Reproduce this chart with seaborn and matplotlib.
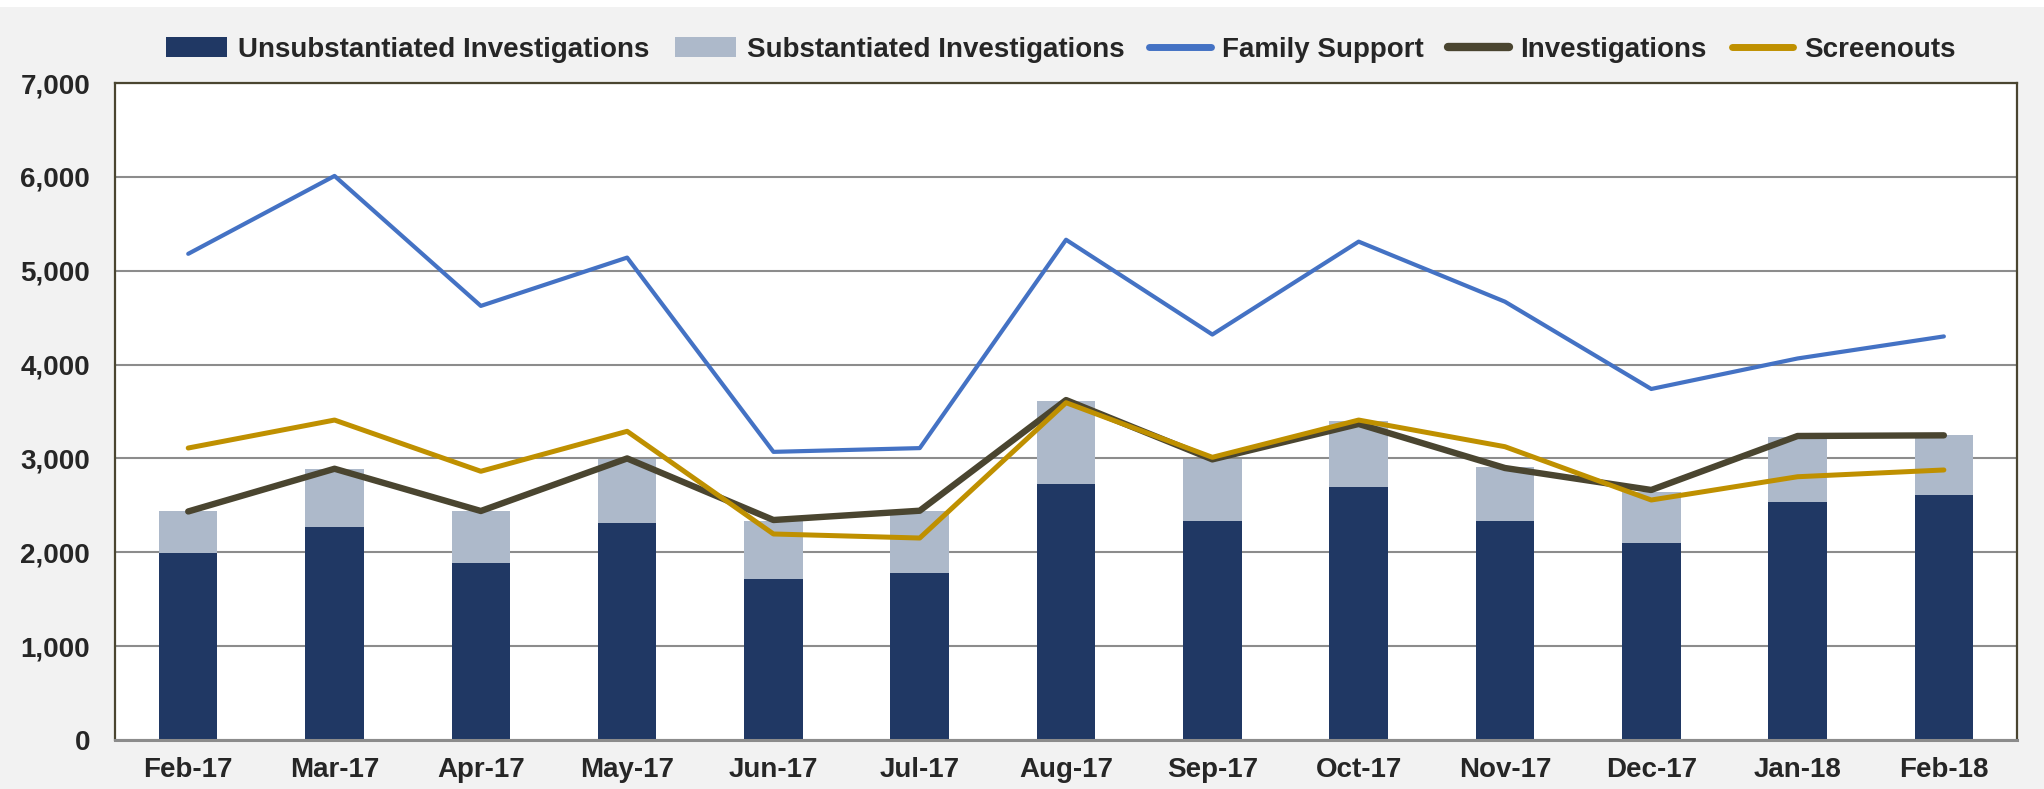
import numpy as np
import pandas as pd
import seaborn as sns
import matplotlib.pyplot as plt
from matplotlib.ticker import FuncFormatter

# Monthly values
months = ["Feb-17", "Mar-17", "Apr-17", "May-17", "Jun-17", "Jul-17", "Aug-17",
          "Sep-17", "Oct-17", "Nov-17", "Dec-17", "Jan-18", "Feb-18"]
unsubstantiated = [1990, 2266, 1882, 2309, 1712, 1776, 2727, 2330, 2692, 2330, 2095, 2539, 2607]
substantiated = [445, 618, 553, 688, 618, 659, 881, 667, 703, 575, 547, 686, 639]
family_support = [5180, 6010, 4625, 5140, 3070, 3110, 5330, 4320, 5310, 4670, 3740, 4065, 4300]
investigations = [2435, 2890, 2440, 3000, 2344, 2443, 3622, 2990, 3367, 2898, 2664, 3239, 3246]
screenouts = [3111, 3409, 2863, 3289, 2195, 2152, 3594, 3012, 3409, 3125, 2557, 2805, 2877]

NAVY = "#203864"
LIGHT = "#adb9ca"
BLUE = "#4472c4"
OLIVE = "#4a4530"
GOLD = "#bf9000"
BG = "#f2f2f2"
FS = 20

df = pd.DataFrame({
    "month": months,
    "unsub": unsubstantiated,
    "sub": substantiated,
    "family": family_support,
    "invest": investigations,
    "screen": screenouts,
})
df["total"] = df["unsub"] + df["sub"]

sns.set_style("white")
plt.rcParams["font.family"] = ["Liberation Sans", "DejaVu Sans"]
plt.rcParams["font.weight"] = "bold"

fig = plt.figure(figsize=(20.44, 7.89), dpi=100, facecolor=BG)
ax = fig.add_axes([0.0563, 0.0621, 0.9305, 0.8327])
ax.set_facecolor("white")

# thin white strip at the very top of the image
fig.patches.append(plt.Rectangle((0, 0.991), 1, 0.009, transform=fig.transFigure,
                                 facecolor="white", edgecolor="none", zorder=0))

# stacked bars: total (light) underneath, unsubstantiated (navy) on top
sns.barplot(data=df, x="month", y="total", color=LIGHT, width=0.4,
            saturation=1, linewidth=0, ax=ax, zorder=2)
sns.barplot(data=df, x="month", y="unsub", color=NAVY, width=0.4,
            saturation=1, linewidth=0, ax=ax, zorder=2)

sns.lineplot(data=df, x="month", y="family", color=BLUE, linewidth=3.0,
             sort=False, ax=ax, zorder=3)
sns.lineplot(data=df, x="month", y="invest", color=OLIVE, linewidth=4.6,
             sort=False, ax=ax, zorder=3, solid_capstyle="round")
sns.lineplot(data=df, x="month", y="screen", color=GOLD, linewidth=3.6,
             sort=False, ax=ax, zorder=4, solid_capstyle="round")

ax.set_xlim(-0.5, len(months) - 0.5)
ax.set_ylim(0, 7000)
ax.set_yticks(np.arange(0, 7001, 1000))
ax.yaxis.set_major_formatter(FuncFormatter(lambda v, p: f"{int(v):,}"))
ax.set_xlabel("")
ax.set_ylabel("")

ax.grid(axis="y", color="#8c8c8c", linewidth=1.5, zorder=0)
ax.set_axisbelow(True)
ax.tick_params(axis="both", length=0, labelsize=FS)
ax.tick_params(axis="x", pad=12)
ax.tick_params(axis="y", pad=18)
for lbl in ax.get_xticklabels() + ax.get_yticklabels():
    lbl.set_fontweight("bold")

for side in ["left", "top", "right"]:
    ax.spines[side].set_color(OLIVE)
    ax.spines[side].set_linewidth(1.6)
ax.spines["bottom"].set_color("#8c8c8c")
ax.spines["bottom"].set_linewidth(2.2)

# Legend across the top
handles = [
    plt.Rectangle((0, 0), 1, 1, facecolor=NAVY, edgecolor="none"),
    plt.Rectangle((0, 0), 1, 1, facecolor=LIGHT, edgecolor="none"),
    plt.Line2D([], [], color=BLUE, linewidth=5, solid_capstyle="round"),
    plt.Line2D([], [], color=OLIVE, linewidth=6, solid_capstyle="round"),
    plt.Line2D([], [], color=GOLD, linewidth=5, solid_capstyle="round"),
]
labels = ["Unsubstantiated Investigations", "Substantiated Investigations",
          "Family Support", "Investigations", "Screenouts"]
fig.legend(handles, labels, loc="center", bbox_to_anchor=(0.519, 0.937),
           ncol=5, frameon=False, handlelength=2.2,
           handleheight=0.7, handletextpad=0.4, columnspacing=0.9,
           prop={"weight": "bold", "size": FS})

plt.savefig("out.png", dpi=100, facecolor=BG)
